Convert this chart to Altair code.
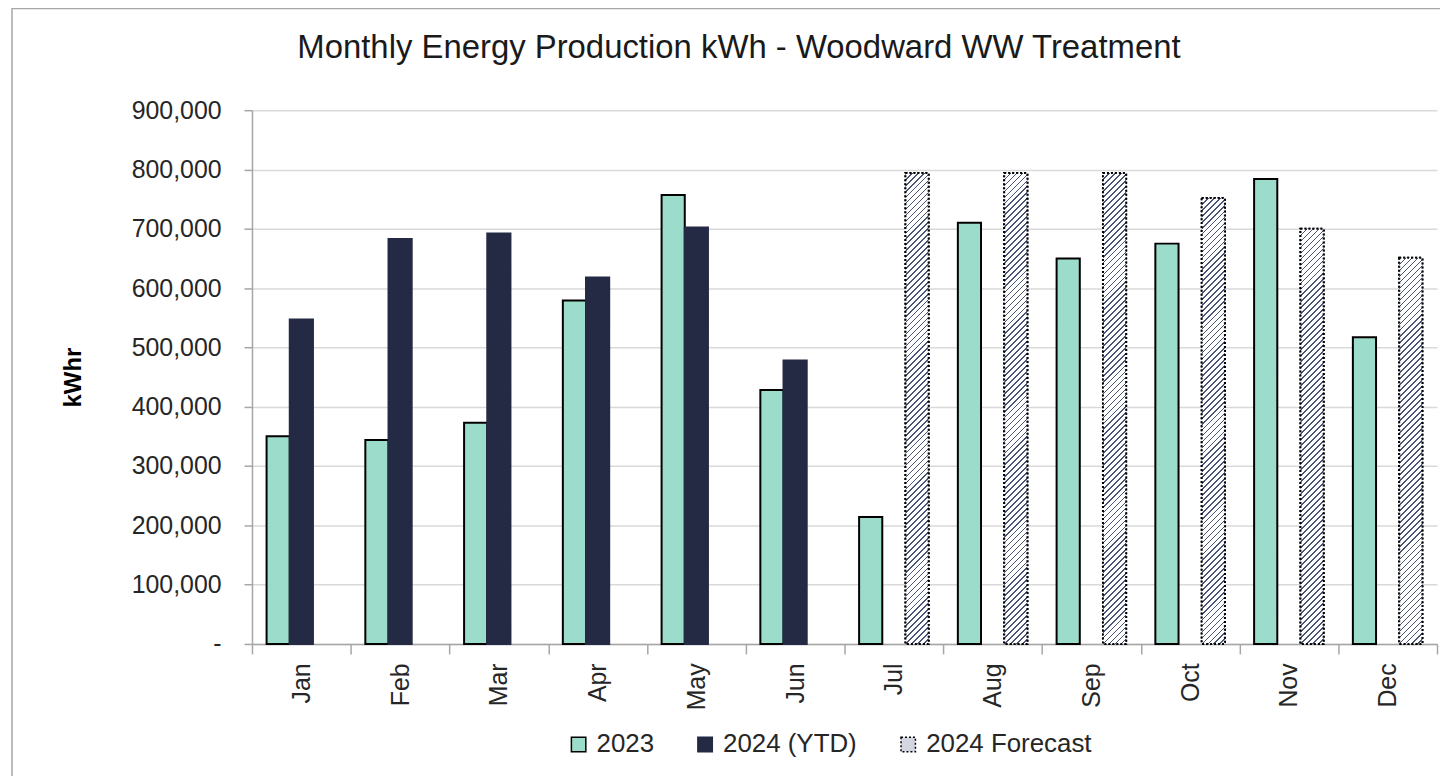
import altair as alt
import pandas as pd

# ---------------- data ----------------
months = ["Jan", "Feb", "Mar", "Apr", "May", "Jun", "Jul", "Aug", "Sep", "Oct", "Nov", "Dec"]
prod_2023 = [350000, 344000, 373000, 579000, 757000, 428000, 214000, 710000, 650000, 675000, 784000, 517000]
ytd_months = ["Jan", "Feb", "Mar", "Apr", "May", "Jun"]
prod_2024_ytd = [547000, 683000, 692000, 618000, 702000, 478000]
forecast_months = ["Jul", "Aug", "Sep", "Oct", "Nov", "Dec"]
prod_2024_forecast = [794000, 794000, 794000, 752000, 700000, 651000]
series_names = ["2023", "2024 (YTD)", "2024 Forecast"]

rows = []
for m, v in zip(months, prod_2023):
    rows.append({"month": m, "series": series_names[0], "value": v})
for m, v in zip(ytd_months, prod_2024_ytd):
    rows.append({"month": m, "series": series_names[1], "value": v})
for m, v in zip(forecast_months, prod_2024_forecast):
    rows.append({"month": m, "series": series_names[2], "value": v})
df = pd.DataFrame(rows)

# ---------------- style ----------------
FONT = "Liberation Sans"
MINT = "#9cdcca"
NAVY = "#242944"
HATCH = "#4a5578"
HATCH_AVG = "#d3d6e0"
GRID = "#d9d9d9"
AXISC = "#a6a6a6"
TEXTC = "#262626"

W, H = 1190, 536
YMAX = 900000
OUTER_PAD = 0.63
step = W / len(months)
bar_w = step / (len(series_names) + 2 * OUTER_PAD)


def hatch_gradient(value, period=6.0, frac=0.28):
    h = value / YMAX * H
    w = bar_w
    n = max(1, int(round((w + h) / period)))
    stops = []
    for k in range(n):
        a = round(k / n, 6)
        b = round((k + frac) / n, 6)
        c = round((k + 1) / n, 6)
        stops += [
            {"offset": a, "color": HATCH},
            {"offset": b, "color": HATCH},
            {"offset": b, "color": "#ffffff"},
            {"offset": c, "color": "#ffffff"},
        ]
    d = w * w + h * h
    return {
        "gradient": "linear",
        "x1": 0, "y1": 0,
        "x2": w * (w + h) / d, "y2": h * (w + h) / d,
        "stops": stops,
    }


x_enc = alt.X(
    "month:N",
    sort=months,
    scale=alt.Scale(domain=months, paddingInner=0, paddingOuter=0),
    axis=alt.Axis(
        title=None,
        labelAngle=270,
        tickBand="extent",
        tickSize=10,
        tickWidth=1.5,
        tickColor=AXISC,
        domainColor=AXISC,
        domainWidth=1.5,
        labelFontSize=25,
        labelFont=FONT,
        labelColor=TEXTC,
        labelPadding=9,
        grid=False,
    ),
)
xoff_enc = alt.XOffset(
    "series:N",
    scale=alt.Scale(domain=series_names, paddingInner=0, paddingOuter=OUTER_PAD),
)
y_enc = alt.Y(
    "value:Q",
    scale=alt.Scale(domain=[0, YMAX], nice=False),
    axis=alt.Axis(
        values=list(range(0, YMAX + 1, 100000)),
        labelExpr="datum.value == 0 ? '-\u00a0\u00a0\u00a0' : format(datum.value, ',')",
        title="kWhr",
        titleFont=FONT,
        titleFontSize=24,
        titleFontWeight="bold",
        titleColor="#000000",
        titlePadding=46,
        labelFont=FONT,
        labelFontSize=25,
        labelColor=TEXTC,
        labelPadding=23,
        tickSize=8,
        tickWidth=1.5,
        tickColor=AXISC,
        domainColor=AXISC,
        domainWidth=1.5,
        gridColor=GRID,
        gridWidth=1.5,
    ),
)

legend = alt.Legend(
    title=None,
    orient="none",
    legendX=315,
    legendY=624,
    direction="horizontal",
    columns=3,
    columnPadding=38,
    labelFont=FONT,
    labelFontSize=26,
    labelColor=TEXTC,
    labelOffset=5,
    labelLimit=400,
    symbolType="square",
    symbolSize=210,
    symbolStrokeWidth=1.5,
)

main = alt.Chart(df).mark_bar(strokeWidth=2).encode(
    x=x_enc,
    xOffset=xoff_enc,
    y=y_enc,
    fill=alt.Fill("series:N", scale=alt.Scale(domain=series_names, range=[MINT, NAVY, HATCH_AVG]), legend=legend),
    stroke=alt.Stroke("series:N", scale=alt.Scale(domain=series_names, range=["#000000", NAVY, "#000000"]), legend=legend),
    strokeDash=alt.StrokeDash("series:N", scale=alt.Scale(domain=series_names, range=[[1, 0], [1, 0], [2, 2]]), legend=legend),
)

layers = [main]
for m, v in zip(forecast_months, prod_2024_forecast):
    layers.append(
        alt.Chart(df)
        .transform_filter((alt.datum.series == series_names[2]) & (alt.datum.month == m))
        .mark_bar(fill=hatch_gradient(v), stroke="#000000", strokeWidth=2, strokeDash=[2, 2])
        .encode(x=x_enc, xOffset=xoff_enc, y=y_enc)
    )

border = alt.Chart(pd.DataFrame({"a": [0]})).mark_rect(
    fill="#ffffff", fillOpacity=0, stroke="#a6a6a6", strokeWidth=1.5
).encode(
    x=alt.value(-241), x2=alt.value(1400), y=alt.value(-102), y2=alt.value(800)
)
layers.append(border)

chart = (
    alt.layer(*layers)
    .properties(
        width=W,
        height=H,
        title=alt.TitleParams(
            "Monthly Energy Production kWh - Woodward WW Treatment",
            font=FONT,
            fontSize=33,
            fontWeight="normal",
            color="#1a1a1a",
            anchor="middle",
            frame="group",
            dx=-106,
            baseline="alphabetic",
            offset=-83,
        ),
        autosize=alt.AutoSizeParams(type="none"),
        padding={"left": 245, "top": 101, "right": 3, "bottom": 131},
        background="#ffffff",
    )
    .configure_view(stroke=None)
)

chart.save("out.html", embed_options={"renderer": "svg", "actions": False})
